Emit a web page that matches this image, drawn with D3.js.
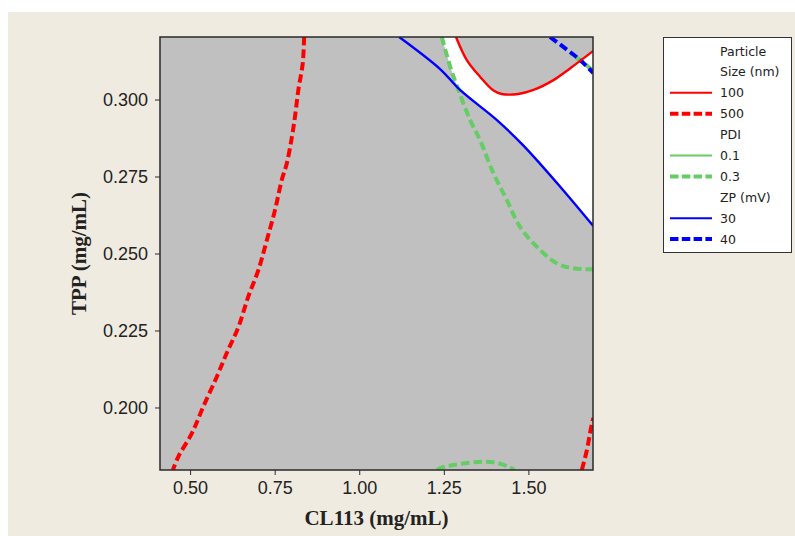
<!DOCTYPE html>
<html>
<head>
<meta charset="utf-8">
<script src="https://cdn.jsdelivr.net/npm/d3@7"></script>
<style>
  html, body { margin: 0; padding: 0; background: #fff; }
  svg { display: block; }
</style>
</head>
<body>
<svg id="chart" width="795" height="536"></svg>
<script>
/* contour lines as [CL113, TPP] */
const size100 = [[1.286, 0.3203], [1.318, 0.3128], [1.357, 0.3074], [1.397, 0.3029], [1.421, 0.3018],
  [1.470, 0.3018], [1.515, 0.3031], [1.574, 0.3063], [1.623, 0.3101], [1.692, 0.3158]]
const size500Left = [[0.837, 0.3203], [0.833, 0.3118], [0.820, 0.3031], [0.810, 0.2944], [0.801, 0.2879],
  [0.786, 0.2793], [0.771, 0.2739], [0.751, 0.2641], [0.727, 0.2544], [0.702, 0.2447], [0.672, 0.2360],
  [0.643, 0.2262], [0.608, 0.2176], [0.579, 0.2100], [0.539, 0.2003], [0.505, 0.1916], [0.465, 0.1840],
  [0.449, 0.1797]]
const size500Right = [[1.658, 0.1797], [1.673, 0.1862], [1.682, 0.1916], [1.689, 0.1954], [1.692, 0.1966]]
const pdi03Main = [[1.244, 0.3203], [1.269, 0.3106], [1.293, 0.3031], [1.328, 0.2933], [1.357, 0.2868],
  [1.397, 0.2760], [1.436, 0.2674], [1.475, 0.2587], [1.525, 0.2522], [1.584, 0.2468], [1.633, 0.2452],
  [1.692, 0.2449]]
const pdi03Top = [[1.625, 0.3150], [1.660, 0.3122], [1.692, 0.3092]]
const pdi03Bottom = [[1.230, 0.1797], [1.239, 0.1803], [1.278, 0.1813], [1.328, 0.1821], [1.372, 0.1824],
  [1.411, 0.1819], [1.446, 0.1805], [1.458, 0.1797]]
const zp30 = [[1.118, 0.3203], [1.239, 0.3099], [1.298, 0.3031], [1.407, 0.2933], [1.484, 0.2852],
  [1.594, 0.2717], [1.692, 0.2589]]
const zp40 = [[1.564, 0.3203], [1.608, 0.3167], [1.653, 0.3128], [1.692, 0.3086]]

const xTicks = [0.50, 0.75, 1.00, 1.25, 1.50]
const yTicks = [0.200, 0.225, 0.250, 0.275, 0.300]
const xDomain = [0.411, 1.691]
const yDomain = [0.1797, 0.3203]

const legendGroups = [
  { title: ["Particle", "Size (nm)"], color: "#ff0000", items: ["100", "500"] },
  { title: ["PDI"], color: "#66cc66", items: ["0.1", "0.3"] },
  { title: ["ZP (mV)"], color: "#0000ff", items: ["30", "40"] }
]

/* layout */
const marginTop = 37
const marginRight = 202
const marginBottom = 66
const marginLeft = 160
const width = 795
const height = 536

const svg = d3.select("#chart")

svg.append("rect")
.attr("x", 8).attr("y", 12)
.attr("width", width - 8).attr("height", height - 12)
.attr("fill", "#efebe1")

const x = d3.scaleLinear(xDomain, [marginLeft, width - marginRight])
const y = d3.scaleLinear(yDomain, [height - marginBottom, marginTop])

const line = d3.line()
.x(d => x(d[0]))
.y(d => y(d[1]))
.curve(d3.curveCatmullRom)

svg.append("clipPath")
.attr("id", "cut-graph")
.append("rect")
.attr("x", marginLeft)
.attr("y", marginTop)
.attr("width", width - marginLeft - marginRight)
.attr("height", height - marginTop - marginBottom)

/* grey plot area */
svg.append("rect")
.attr("x", marginLeft)
.attr("y", marginTop)
.attr("width", width - marginLeft - marginRight)
.attr("height", height - marginTop - marginBottom)
.attr("fill", "#c0c0c0")

/* white feasible region: left along PDI 0.3, down along ZP 30, up the edge, back along size 100 */
const white = [
  ...pdi03Main.slice(0, 3),
  ...zp30.slice(2),
  [xDomain[1] + 0.01, zp30[zp30.length - 1][1]],
  ...size100.slice().reverse(),
  [pdi03Main[0][0], yDomain[1] + 0.001]
]
svg.append("path")
.attr("clip-path", "url(#cut-graph)")
.attr("fill", "#ffffff")
.attr("d", d3.line().x(d => x(d[0])).y(d => y(d[1]))(white) + "Z")

const series = [
  { data: pdi03Main, color: "#66cc66", dashed: true },
  { data: pdi03Bottom, color: "#66cc66", dashed: true },
  { data: pdi03Top, color: "#66cc66", dashed: true, offset: 6 },
  { data: zp30, color: "#0000ff", dashed: false },
  { data: zp40, color: "#0000ff", dashed: true },
  { data: size100, color: "#ff0000", dashed: false },
  { data: size500Left, color: "#ff0000", dashed: true },
  { data: size500Right, color: "#ff0000", dashed: true }
]

svg.append("g")
.selectAll("path")
.data(series)
.join("path")
.attr("clip-path", "url(#cut-graph)")
.attr("fill", "none")
.attr("stroke", d => d.color)
.attr("stroke-width", d => d.dashed ? 4 : 2.4)
.attr("stroke-dasharray", d => d.dashed ? "8.5,4" : null)
.attr("stroke-dashoffset", d => d.offset || 0)
.attr("d", d => line(d.data))

/* plot frame */
svg.append("rect")
.attr("x", marginLeft)
.attr("y", marginTop)
.attr("width", width - marginLeft - marginRight)
.attr("height", height - marginTop - marginBottom)
.attr("fill", "none")
.attr("stroke", "#2a2a2a")
.attr("stroke-width", 1.5)

/* x axis */
svg.append("g")
.attr("transform", `translate(0, ${height - marginBottom})`)
.call(d3.axisBottom(x).tickValues(xTicks).tickFormat(d3.format(".2f")).tickSize(5).tickPadding(6))
.call(g => g.select(".domain").remove())
.call(g => g.selectAll(".tick line").attr("stroke", "#2a2a2a"))
.call(g => g.selectAll(".tick text")
  .attr("fill", "#222")
  .style("font", "18px 'Liberation Sans', Arial, sans-serif"))

/* y axis */
svg.append("g")
.attr("transform", `translate(${marginLeft}, 0)`)
.call(d3.axisLeft(y).tickValues(yTicks).tickFormat(d3.format(".3f")).tickSize(5).tickPadding(7))
.call(g => g.select(".domain").remove())
.call(g => g.selectAll(".tick line").attr("stroke", "#2a2a2a"))
.call(g => g.selectAll(".tick text")
  .attr("fill", "#222")
  .style("font", "18px 'Liberation Sans', Arial, sans-serif"))

/* axis titles */
svg.append("text")
.attr("x", (marginLeft + width - marginRight) / 2)
.attr("y", 525)
.attr("text-anchor", "middle")
.attr("fill", "#222")
.style("font", "bold 21px 'Liberation Serif', 'Times New Roman', serif")
.text("CL113 (mg/mL)")

svg.append("text")
.attr("transform", `translate(86, ${(marginTop + height - marginBottom) / 2}) rotate(-90)`)
.attr("text-anchor", "middle")
.attr("fill", "#222")
.style("font", "bold 21px 'Liberation Serif', 'Times New Roman', serif")
.text("TPP (mg/mL)")

/* legend */
const legend = svg.append("g")
legend.append("rect")
.attr("x", 663.5).attr("y", 37.5)
.attr("width", 128).attr("height", 215)
.attr("fill", "#ffffff")
.attr("stroke", "#333")
.attr("stroke-width", 1)

const rowH = 20.9
let row = 0
const legendFont = "12.5px 'DejaVu Sans', Verdana, sans-serif"
for (const grp of legendGroups) {
  for (const t of grp.title) {
    legend.append("text")
    .attr("x", 720).attr("y", 55.5 + rowH * row)
    .attr("fill", "#222")
    .style("font", legendFont)
    .text(t)
    row++
  }
  grp.items.forEach((label, i) => {
    const cy = 51 + rowH * row
    legend.append("line")
    .attr("x1", 670).attr("x2", 712)
    .attr("y1", cy).attr("y2", cy)
    .attr("stroke", grp.color)
    .attr("stroke-width", i === 0 ? 2 : 4)
    .attr("stroke-dasharray", i === 0 ? null : "8.5,3.3")
    legend.append("text")
    .attr("x", 720).attr("y", 55.5 + rowH * row)
    .attr("fill", "#222")
    .style("font", legendFont)
    .text(label)
    row++
  })
}
</script>
</body>
</html>
